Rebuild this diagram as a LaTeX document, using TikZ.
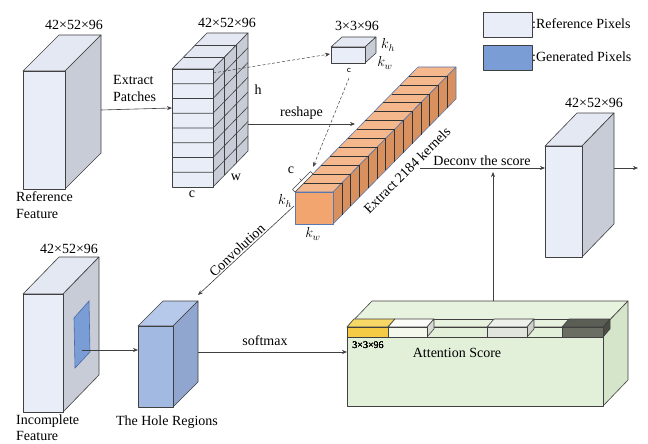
\documentclass[tikz,border=0pt]{standalone}
\usepackage{fontspec}
\setmainfont{Liberation Serif}
\usepackage{amsmath}
\usepackage{xcolor}
\usepackage{tikz}
\usetikzlibrary{arrows.meta,calc}

\definecolor{refFront}{HTML}{E8EDF7}
\definecolor{refTop}{HTML}{E3E8F3}
\definecolor{refSide}{HTML}{C8CCD6}
\definecolor{genFill}{HTML}{7B9DD5}
\definecolor{genLine}{HTML}{4A6AA8}
\definecolor{holeFront}{HTML}{A2B9E2}
\definecolor{holeTop}{HTML}{B6C9EA}
\definecolor{holeSide}{HTML}{90A6CF}
\definecolor{barFront}{HTML}{F2A56E}
\definecolor{barTop}{HTML}{F5B88C}
\definecolor{barSide}{HTML}{D8915E}
\definecolor{barLine}{HTML}{5878B0}
\definecolor{attFront}{HTML}{E2EFD9}
\definecolor{attTop}{HTML}{E7F2DF}
\definecolor{attSide}{HTML}{D4E5C9}
\definecolor{yelFront}{HTML}{F5CB45}
\definecolor{yelTop}{HTML}{F7D766}
\definecolor{yelSide}{HTML}{D9AE2E}
\definecolor{whiFront}{HTML}{F3F7EC}
\definecolor{whiTop}{HTML}{FBFCF8}
\definecolor{whiSide}{HTML}{D6D8D2}
\definecolor{greFront}{HTML}{E2E5DE}
\definecolor{greTop}{HTML}{EEF0EB}
\definecolor{greSide}{HTML}{CDCFCA}
\definecolor{darFront}{HTML}{6A6D62}
\definecolor{darTop}{HTML}{5B5E54}
\definecolor{darSide}{HTML}{4B4D45}

% box with front face at (#1,#2), size #3 x #4, depth (#5,#6), fills #7 #8 #9
\newcommand{\cuboid}[9]{%
  \filldraw[face,fill=#8] (#1,#2) -- ++(#5,#6) -- ++(#3,0) -- ++({-(#5)},{-(#6)}) -- cycle;
  \filldraw[face,fill=#9] ({#1+#3},#2) -- ++(#5,#6) -- ++(0,#4) -- ++({-(#5)},{-(#6)}) -- cycle;
  \filldraw[face,fill=#7] (#1,#2) rectangle ++(#3,#4);
}

\begin{document}
\begin{tikzpicture}[x=1pt,y=-1pt,
  font=\fontsize{14}{17}\selectfont,
  face/.style={draw=black!75, line width=0.6pt, line join=round},
  conn/.style={-{Stealth[length=5pt,width=4pt]}, draw=black!75, line width=0.6pt},
  dotconn/.style={conn, densely dashed},
  dim/.style={inner sep=1pt},
  small/.style={font=\fontsize{10}{12}\selectfont, inner sep=1pt}]
\useasboundingbox (0,0) rectangle (648,444);

% Reference feature
\cuboid{23}{71}{42}{118}{36}{-36}{refFront}{refTop}{refSide}
\node[dim] (refdim) at (74,25) {42×52×96};
\node[anchor=north west, align=left, inner sep=0pt] (reflbl) at (16,191) {Reference\\Feature};

% Extracted patches
\cuboid{172}{69}{41}{118}{35}{-36}{refFront}{refTop}{refSide}
\foreach \i in {1,...,7}
  \draw[face] (172,{69+14.75*\i}) -- ++(41,0) -- ++(35,-36);
\foreach \k in {1,2}
  \draw[face] ({172+35*\k/3},{69-12*\k}) -- ++(41,0) -- ++(0,118);
\node[dim] (patdim) at (227,23) {42×52×96};
\node (hlbl) at (258,90) {h};
\node (wlbl) at (236,177) {w};
\node (clbl) at (192,194) {c};

% One 3x3 kernel
\cuboid{331}{47}{34}{16}{11}{-10}{refFront}{refTop}{refSide}
\node[dim] (kerdim) at (357,26) {3×3×96};
\node (kerkh) at (388,45) {$k_h$};
\node (kerkw) at (385,63) {$k_w$};
\node[small, font=\fontsize{9}{10}\sffamily] (kerc) at (349,70) {c};

% Kernels stacked in a long bar
\begin{scope}[face/.style={draw=barLine, line width=0.6pt, line join=round}]
\cuboid{295}{192}{38}{32}{123}{-125}{barFront}{barTop}{barSide}
\end{scope}
\foreach \i in {1,...,13}
  \draw[black!80, line width=0.5pt] ({295+123*\i/14},{192-125*\i/14}) -- ++(38,0) -- ++(0,32);
\draw[face, fill=white] (295,192) -- (313,174) -- (310.5,171.5) -- (292.5,189.5) -- cycle;
\draw[face] (302,181) -- (299.5,178.5);
\node (barc) at (291,170) {c};
\node[fill=white, inner sep=0pt] (barkh) at (285,201) {$k_h$};
\node (barkw) at (313,234) {$k_w$};
\node[rotate=45] (barlbl) at (407,170) {Extract 2184 kernels};

% Legend
\filldraw[face, fill=refFront] (483,12) rectangle (532,37);
\filldraw[face, fill=genFill] (483,45) rectangle (532,70);
\node[anchor=west, inner sep=0pt] (legref) at (532,24) {:Reference Pixels};
\node[anchor=west, inner sep=0pt] (leggen) at (532,57) {:Generated Pixels};

% Output feature
\cuboid{545}{146}{37}{111}{32}{-33}{refFront}{refTop}{refSide}
\node[dim] (outdim) at (594,103) {42×52×96};

% Incomplete feature with its hole
\cuboid{23}{294}{40}{118}{36}{-37}{refFront}{refTop}{refSide}
\filldraw[fill=genFill, draw=genLine, line width=0.6pt] (74,318) -- (89,301) -- (90,352) -- (75,368) -- cycle;
\node[dim] (incdim) at (69,249) {42×52×96};
\node[anchor=north west, align=left, inner sep=0pt, font=\fontsize{14}{15.5}\selectfont] (inclbl) at (16,415) {Incomplete\\Feature};

% Hole regions
\cuboid{138}{326}{35}{81}{25}{-25}{holeFront}{holeTop}{holeSide}
\node (holelbl) at (167,422) {The Hole Regions};

% Attention score
\cuboid{347}{327}{256}{79}{25}{-26}{attFront}{attTop}{attSide}
\draw[face] (354,319) -- (610,319);
\draw[face] (347,337) -- (603,337);
\foreach \x/\w/\c in {347/41/yel, 388/39/whi, 487/40/gre, 562/41/dar}
  \cuboid{\x}{327}{\w}{10}{7}{-8}{\c Front}{\c Top}{\c Side}
\node[small] (attdim) at (368,345) {3×3×96};
\node (attlbl) at (457,353) {Attention Score};

% Connector ends
\coordinate (refout) at (101,110);
\coordinate (patin) at (172,108);
\coordinate (patout) at (248,124);
\coordinate (barin) at (355,124);
\coordinate (patcell) at (213,73);
\coordinate (kerin) at (330,54);
\coordinate (kertail) at (349,78);
\coordinate (barcorner) at (313,167);
\coordinate (convfrom) at (294,206);
\coordinate (holetop) at (198,295);
\coordinate (hole) at (82,350);
\coordinate (holein) at (138,350);
\coordinate (holeout) at (198,352);
\coordinate (attin) at (347,352);
\coordinate (atttop) at (493,301);
\coordinate (scoreup) at (493,172);
\coordinate (deconvfrom) at (420,168);
\coordinate (outin) at (545,168);
\coordinate (outright) at (614,168);
\coordinate (outend) at (638,168);

% Connectors
\draw[conn] (refout) -- (patin);
\node[anchor=north west, align=left, inner sep=0pt] (extlbl) at (113,75) {Extract\\Patches};
\draw[conn] (patout) -- (barin) node[midway, above=1pt] (reshapelbl) {reshape};
\draw[dotconn, line width=0.5pt] (patcell) -- (kerin);
\draw[dotconn, line width=0.5pt] (kertail) -- (barcorner);
\draw[conn] (convfrom) -- (holetop);
\node[rotate=43] (convlbl) at (237,250) {Convolution};
\draw[conn] (hole) -- (holein);
\draw[conn] (holeout) -- (attin);
\node (softlbl) at (265,341) {softmax};
\draw[conn] (atttop) -- (scoreup);
\draw[conn] (deconvfrom) -- (outin);
\node (deconvlbl) at (482,161) {Deconv the score};
\draw[conn] (outright) -- (outend);

\end{tikzpicture}
\end{document}
